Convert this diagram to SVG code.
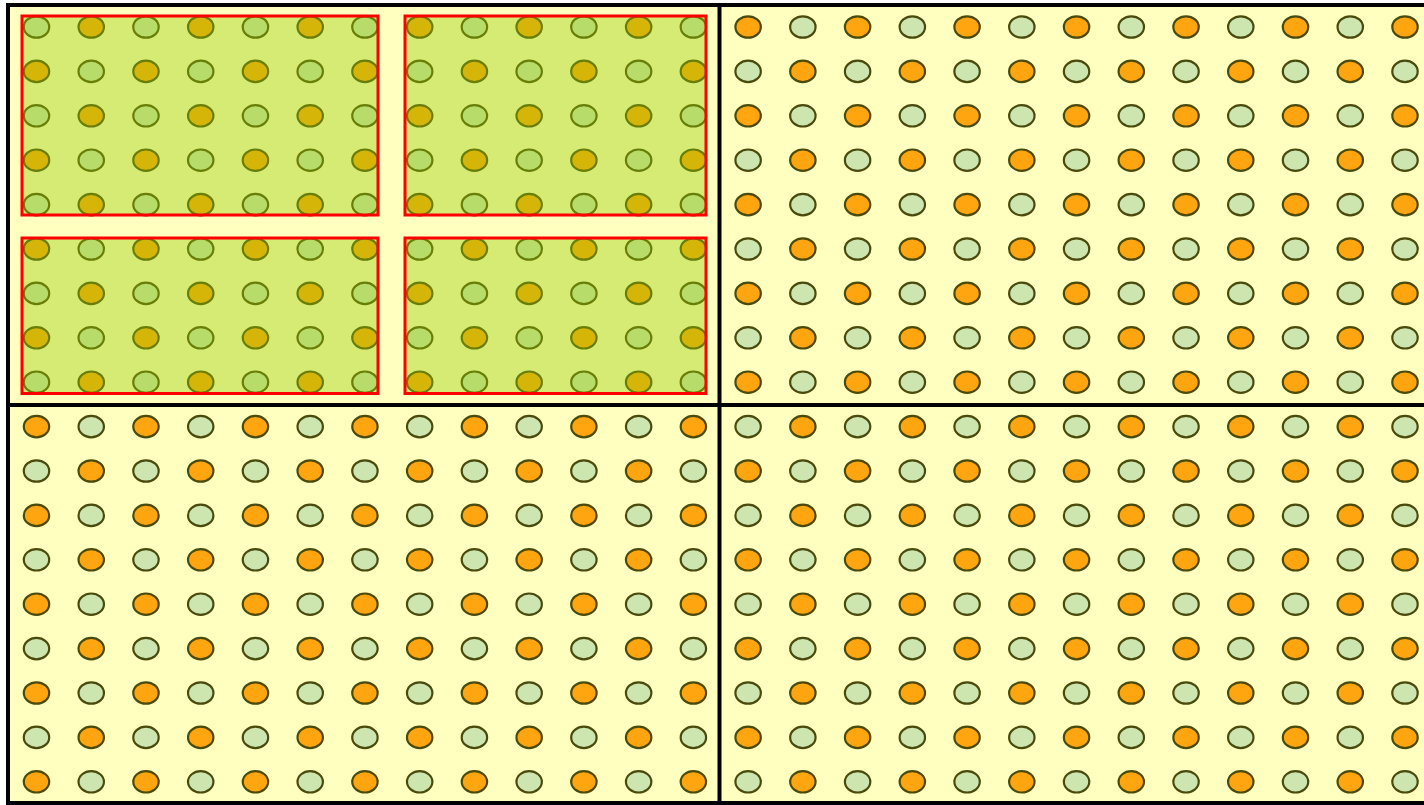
<svg xmlns="http://www.w3.org/2000/svg" xmlns:xlink="http://www.w3.org/1999/xlink" width="1424" height="805" viewBox="0 0 1424 805">
<style>
.g{fill:#CDE6B0;stroke:#4A4A0C;stroke-width:2.2}
.o{fill:#FFA50F;stroke:#4A4A0C;stroke-width:2.2}
.zone{fill:#99CC00;fill-opacity:0.4;stroke:#FF0000;stroke-width:3}
.div{stroke:#000;stroke-width:4;fill:none}
</style>
<defs>
<g id="rowE">
<ellipse class="g" cx="36.5" cy="0" rx="12.7" ry="10.7"/><ellipse class="o" cx="91.24" cy="0" rx="12.7" ry="10.7"/><ellipse class="g" cx="145.98" cy="0" rx="12.7" ry="10.7"/><ellipse class="o" cx="200.72" cy="0" rx="12.7" ry="10.7"/><ellipse class="g" cx="255.46" cy="0" rx="12.7" ry="10.7"/><ellipse class="o" cx="310.2" cy="0" rx="12.7" ry="10.7"/><ellipse class="g" cx="364.94" cy="0" rx="12.7" ry="10.7"/><ellipse class="o" cx="419.68" cy="0" rx="12.7" ry="10.7"/><ellipse class="g" cx="474.42" cy="0" rx="12.7" ry="10.7"/><ellipse class="o" cx="529.16" cy="0" rx="12.7" ry="10.7"/><ellipse class="g" cx="583.9" cy="0" rx="12.7" ry="10.7"/><ellipse class="o" cx="638.64" cy="0" rx="12.7" ry="10.7"/><ellipse class="g" cx="693.38" cy="0" rx="12.7" ry="10.7"/><ellipse class="o" cx="748.12" cy="0" rx="12.7" ry="10.7"/><ellipse class="g" cx="802.86" cy="0" rx="12.7" ry="10.7"/><ellipse class="o" cx="857.6" cy="0" rx="12.7" ry="10.7"/><ellipse class="g" cx="912.34" cy="0" rx="12.7" ry="10.7"/><ellipse class="o" cx="967.08" cy="0" rx="12.7" ry="10.7"/><ellipse class="g" cx="1021.82" cy="0" rx="12.7" ry="10.7"/><ellipse class="o" cx="1076.56" cy="0" rx="12.7" ry="10.7"/><ellipse class="g" cx="1131.3" cy="0" rx="12.7" ry="10.7"/><ellipse class="o" cx="1186.04" cy="0" rx="12.7" ry="10.7"/><ellipse class="g" cx="1240.78" cy="0" rx="12.7" ry="10.7"/><ellipse class="o" cx="1295.52" cy="0" rx="12.7" ry="10.7"/><ellipse class="g" cx="1350.26" cy="0" rx="12.7" ry="10.7"/><ellipse class="o" cx="1405" cy="0" rx="12.7" ry="10.7"/>
</g>
<g id="rowO">
<ellipse class="o" cx="36.5" cy="0" rx="12.7" ry="10.7"/><ellipse class="g" cx="91.24" cy="0" rx="12.7" ry="10.7"/><ellipse class="o" cx="145.98" cy="0" rx="12.7" ry="10.7"/><ellipse class="g" cx="200.72" cy="0" rx="12.7" ry="10.7"/><ellipse class="o" cx="255.46" cy="0" rx="12.7" ry="10.7"/><ellipse class="g" cx="310.2" cy="0" rx="12.7" ry="10.7"/><ellipse class="o" cx="364.94" cy="0" rx="12.7" ry="10.7"/><ellipse class="g" cx="419.68" cy="0" rx="12.7" ry="10.7"/><ellipse class="o" cx="474.42" cy="0" rx="12.7" ry="10.7"/><ellipse class="g" cx="529.16" cy="0" rx="12.7" ry="10.7"/><ellipse class="o" cx="583.9" cy="0" rx="12.7" ry="10.7"/><ellipse class="g" cx="638.64" cy="0" rx="12.7" ry="10.7"/><ellipse class="o" cx="693.38" cy="0" rx="12.7" ry="10.7"/><ellipse class="g" cx="748.12" cy="0" rx="12.7" ry="10.7"/><ellipse class="o" cx="802.86" cy="0" rx="12.7" ry="10.7"/><ellipse class="g" cx="857.6" cy="0" rx="12.7" ry="10.7"/><ellipse class="o" cx="912.34" cy="0" rx="12.7" ry="10.7"/><ellipse class="g" cx="967.08" cy="0" rx="12.7" ry="10.7"/><ellipse class="o" cx="1021.82" cy="0" rx="12.7" ry="10.7"/><ellipse class="g" cx="1076.56" cy="0" rx="12.7" ry="10.7"/><ellipse class="o" cx="1131.3" cy="0" rx="12.7" ry="10.7"/><ellipse class="g" cx="1186.04" cy="0" rx="12.7" ry="10.7"/><ellipse class="o" cx="1240.78" cy="0" rx="12.7" ry="10.7"/><ellipse class="g" cx="1295.52" cy="0" rx="12.7" ry="10.7"/><ellipse class="o" cx="1350.26" cy="0" rx="12.7" ry="10.7"/><ellipse class="g" cx="1405" cy="0" rx="12.7" ry="10.7"/>
</g>
</defs>
<rect x="0" y="0" width="1424" height="805" fill="#FFFFFF"/>
<rect id="board" x="8" y="5" width="1430" height="798" fill="#FFFFC0"/>
<g id="dots">
<use xlink:href="#rowE" href="#rowE" y="27"/>
<use xlink:href="#rowO" href="#rowO" y="71.4"/>
<use xlink:href="#rowE" href="#rowE" y="115.8"/>
<use xlink:href="#rowO" href="#rowO" y="160.2"/>
<use xlink:href="#rowE" href="#rowE" y="204.6"/>
<use xlink:href="#rowO" href="#rowO" y="249"/>
<use xlink:href="#rowE" href="#rowE" y="293.4"/>
<use xlink:href="#rowO" href="#rowO" y="337.8"/>
<use xlink:href="#rowE" href="#rowE" y="382.2"/>
<use xlink:href="#rowO" href="#rowO" y="426.6"/>
<use xlink:href="#rowE" href="#rowE" y="471"/>
<use xlink:href="#rowO" href="#rowO" y="515.4"/>
<use xlink:href="#rowE" href="#rowE" y="559.8"/>
<use xlink:href="#rowO" href="#rowO" y="604.2"/>
<use xlink:href="#rowE" href="#rowE" y="648.6"/>
<use xlink:href="#rowO" href="#rowO" y="693"/>
<use xlink:href="#rowE" href="#rowE" y="737.4"/>
<use xlink:href="#rowO" href="#rowO" y="781.8"/>
</g>
<g id="zones">
<rect id="zone1" class="zone" x="22" y="16" width="356" height="199"/>
<rect id="zone2" class="zone" x="405" y="16" width="301" height="199"/>
<rect id="zone3" class="zone" x="22" y="238" width="356" height="155.5"/>
<rect id="zone4" class="zone" x="405" y="238" width="301" height="155.5"/>
</g>
<g id="dividers">
<line class="div" x1="719.5" y1="5" x2="719.5" y2="803"/>
<line class="div" x1="8" y1="405" x2="1424" y2="405"/>
<rect class="div" x="8" y="5" width="1430" height="798"/>
</g>
</svg>
